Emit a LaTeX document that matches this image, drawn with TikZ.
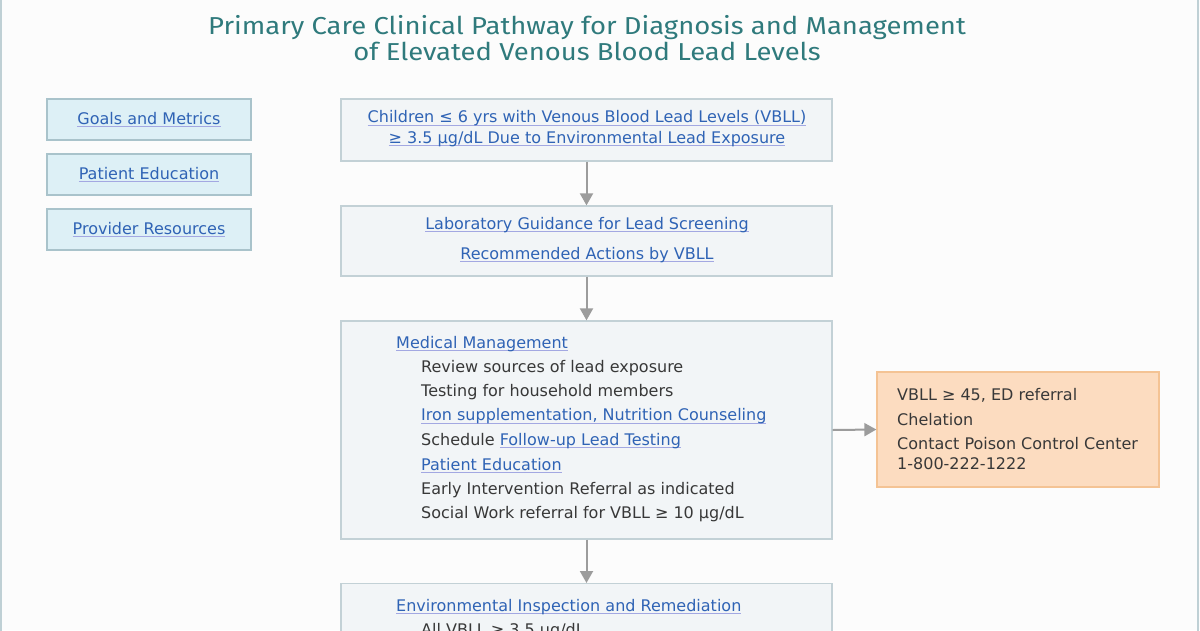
\documentclass[tikz,border=0pt]{standalone}
\usepackage{fontspec}
\setmainfont{DejaVu Sans}
\newfontfamily\titlefont[FakeStretch=1.12]{Fira Sans}
\usetikzlibrary{arrows.meta}
\definecolor{linkblue}{HTML}{2F63B5}
\definecolor{ulcol}{HTML}{A3A8E2}
\definecolor{txt}{HTML}{383838}
\definecolor{tealc}{HTML}{2F7A7C}
\definecolor{boxfill}{HTML}{F2F5F7}
\definecolor{boxline}{HTML}{C3D1D6}
\definecolor{navfill}{HTML}{DDF0F6}
\definecolor{navline}{HTML}{A9C3CB}
\definecolor{orfill}{HTML}{FCDCC0}
\definecolor{orline}{HTML}{F4C394}
\definecolor{arrowc}{HTML}{9C9C9C}
\definecolor{frame}{HTML}{BFD0D5}
\newlength\lnkw
\newcommand\lnk[1]{\settowidth\lnkw{#1}\rlap{\color{ulcol}\rule[-2.8pt]{\lnkw}{0.9pt}}{\color{linkblue}#1}}
\tikzset{
  flowbox/.style={draw=boxline, fill=boxfill, line width=1.3pt},
  navbox/.style={draw=navline, fill=navfill, line width=1.3pt},
  orbox/.style={draw=orline, fill=orfill, line width=1.3pt},
  txtnode/.style={inner sep=0pt, text=txt, font=\fontsize{16}{19}\selectfont, anchor=west},
  ctrnode/.style={inner sep=0pt, text=txt, font=\fontsize{16}{19}\selectfont},
  flow/.style={draw=arrowc, line width=2pt, -{Triangle[length=12pt,width=13pt]}},
}
\begin{document}
\begin{tikzpicture}[x=1pt,y=-1pt]
\useasboundingbox (0,0) rectangle (1200,630);
\clip (0,0) rectangle (1200,630);
\fill[white!99!black] (0,0) rectangle (1200,630);
\draw[frame, line width=2pt] (1,-5) -- (1,640);
\draw[frame, line width=2pt] (1198,-5) -- (1198,640);

% title
\node[inner sep=0pt, text=tealc, font=\titlefont\fontsize{24.5}{26}\selectfont, align=center] (title) at (587,38.5)
  {Primary Care Clinical Pathway for Diagnosis and Management\\of Elevated Venous Blood Lead Levels};

% nav boxes
\path[navbox] (47,99) rectangle (251,140) node[midway, ctrnode] (goals) {\lnk{Goals and Metrics}};
\path[navbox] (47,154) rectangle (251,195) node[midway, ctrnode] (pated) {\lnk{Patient Education}};
\path[navbox] (47,209) rectangle (251,250) node[midway, ctrnode] (provres) {\lnk{Provider Resources}};

% flow boxes
\node[flowbox, minimum width=491pt, minimum height=62pt, inner sep=0pt] (b1) at (586.5,130) {};
\node[ctrnode] (b1a) at (587,118.5) {\lnk{Children ≤ 6 yrs with Venous Blood Lead Levels (VBLL)}};
\node[ctrnode] (b1b) at (587,139) {\lnk{≥ 3.5 μg/dL Due to Environmental Lead Exposure}};

\node[flowbox, minimum width=491pt, minimum height=70pt, inner sep=0pt] (b2) at (586.5,241) {};
\node[ctrnode] (b2a) at (587,225) {\lnk{Laboratory Guidance for Lead Screening}};
\node[ctrnode] (b2b) at (587,255) {\lnk{Recommended Actions by VBLL}};

\node[flowbox, minimum width=491pt, minimum height=218pt, inner sep=0pt] (b3) at (586.5,430) {};
\node[txtnode] (m0) at (396,344) {\lnk{Medical Management}};
\node[txtnode] (m1) at (421,368) {Review sources of lead exposure};
\node[txtnode] (m2) at (421,392) {Testing for household members};
\node[txtnode] (m3) at (421,416.5) {\lnk{Iron supplementation, Nutrition Counseling}};
\node[txtnode] (m4) at (421,441) {Schedule \lnk{Follow-up Lead Testing}};
\node[txtnode] (m5) at (421,465.5) {\lnk{Patient Education}};
\node[txtnode] (m6) at (421,490) {Early Intervention Referral as indicated};
\node[txtnode] (m7) at (421,514.5) {Social Work referral for VBLL ≥ 10 μg/dL};

\node[orbox, minimum width=282pt, minimum height=115pt, inner sep=0pt] (or) at (1018,429.5) {};
\node[txtnode] (o1) at (897,395) {VBLL ≥ 45, ED referral};
\node[txtnode] (o2) at (897,419.5) {Chelation};
\node[txtnode] (o3) at (897,444) {Contact Poison Control Center};
\node[txtnode] (o4) at (897,464) {1-800-222-1222};

\node[flowbox, minimum width=491pt, minimum height=120pt, inner sep=0pt, anchor=north] (b4) at (586.5,583) {};
\node[txtnode] (e0) at (396,607) {\lnk{Environmental Inspection and Remediation}};
\node[txtnode] (e1) at (421,631) {All VBLL ≥ 3.5 μg/dL};

% arrows
\draw[flow] (b1.south) -- (b2.north);
\draw[flow] (b2.south) -- (b3.north);
\draw[flow] (b3.south) -- (b4.north);
\draw[flow] (b3.east) -- (or.west);
\end{tikzpicture}
\end{document}
